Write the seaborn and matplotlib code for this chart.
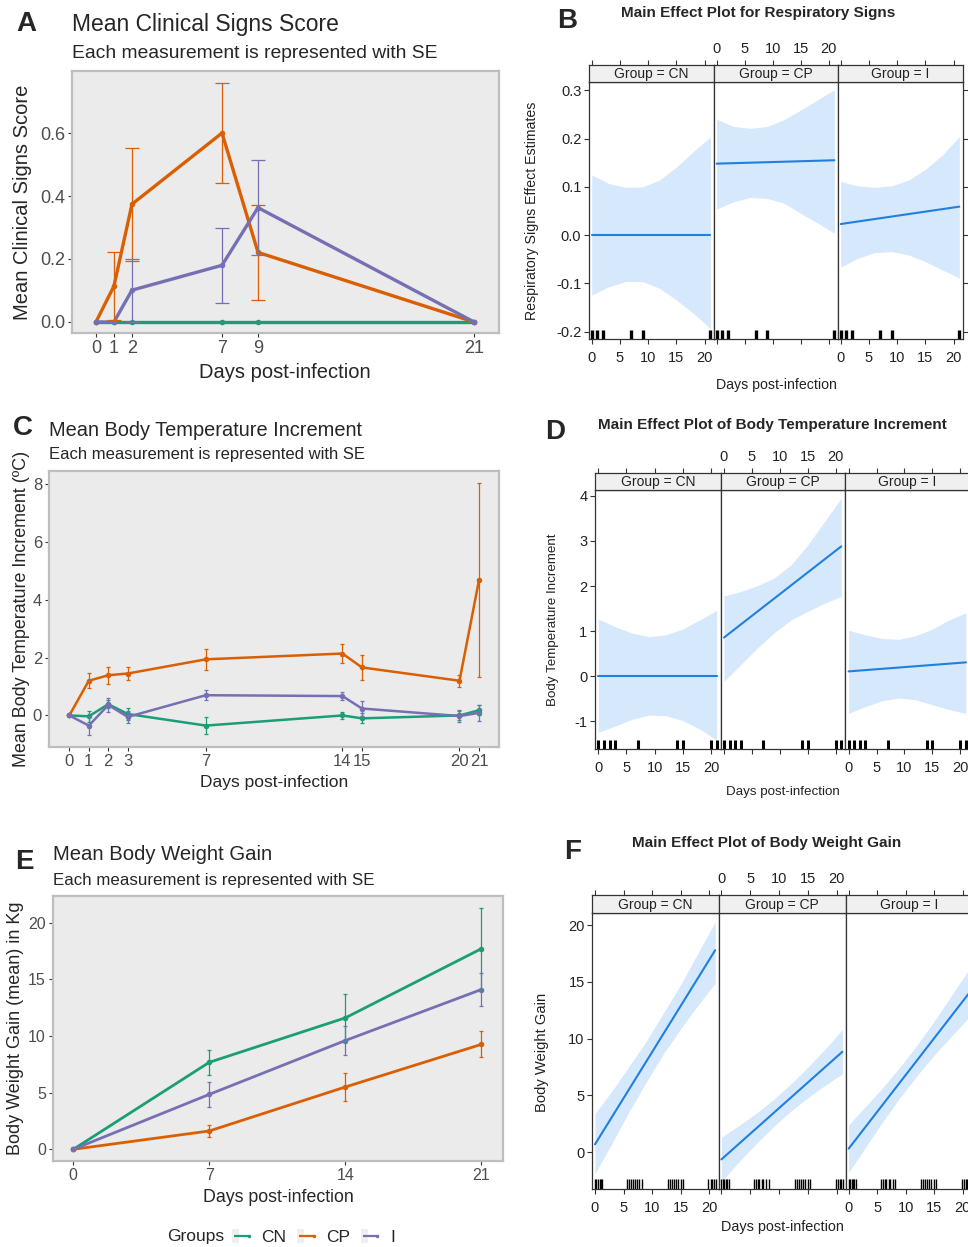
import numpy as np
import pandas as pd
import matplotlib
matplotlib.use("Agg")
import matplotlib.pyplot as plt
import seaborn as sns
from matplotlib.patches import Patch
from matplotlib.lines import Line2D
from matplotlib.legend_handler import HandlerTuple

sns.set_theme(style="white")
plt.rcParams['font.family'] = ['Liberation Sans', 'DejaVu Sans']
plt.rcParams['axes.unicode_minus'] = False

W, H = 968, 1247
groups = ["CN", "CP", "I"]
pal = {"CN": "#1B9E77", "CP": "#D95F02", "I": "#7570B3"}

# A - clinical signs
days_a = [0, 1, 2, 7, 9, 21]
score = {"CN": [0, 0, 0, 0, 0, 0],
         "CP": [0, 0.114, 0.374, 0.60, 0.221, 0],
         "I": [0, 0, 0.101, 0.18, 0.363, 0]}
score_se = {"CN": [0, 0, 0, 0, 0, 0],
            "CP": [0, 0.108, 0.18, 0.16, 0.15, 0],
            "I": [0, 0, 0.10, 0.12, 0.15, 0]}

# C - body temperature increment
days_c = [0, 1, 2, 3, 7, 14, 15, 20, 21]
temp = {"CN": [0, -0.03, 0.39, 0.05, -0.35, 0.0, -0.1, 0.0, 0.18],
        "CP": [0, 1.2, 1.39, 1.45, 1.94, 2.14, 1.66, 1.2, 4.68],
        "I": [0, -0.35, 0.36, -0.05, 0.70, 0.67, 0.24, -0.02, 0.09]}
temp_se = {"CN": [0, 0.18, 0.14, 0.2, 0.29, 0.13, 0.17, 0.17, 0.17],
           "CP": [0, 0.26, 0.29, 0.24, 0.37, 0.33, 0.43, 0.21, 3.34],
           "I": [0, 0.34, 0.23, 0.2, 0.18, 0.15, 0.25, 0.2, 0.27]}

# E - body weight gain
days_e = [0, 7, 14, 21]
gain = {"CN": [0, 7.68, 11.6, 17.7],
        "CP": [0, 1.62, 5.5, 9.26],
        "I": [0, 4.85, 9.6, 14.1]}
gain_se = {"CN": [0, 1.1, 2.15, 3.6],
           "CP": [0, 0.55, 1.25, 1.15],
           "I": [0, 1.1, 1.3, 1.45]}

# effect plots (B, D, F): fitted line ends and band edges read at band_x
band_x = [0, 3, 6, 9, 12, 15, 18, 21]
line_x = [0, 21]

resp_line = {"CN": [0.0, 0.0], "CP": [0.148, 0.155], "I": [0.023, 0.059]}
resp_hi = {"CN": [0.125, 0.107, 0.099, 0.100, 0.114, 0.141, 0.173, 0.203],
           "CP": [0.240, 0.225, 0.221, 0.225, 0.239, 0.259, 0.280, 0.301],
           "I": [0.111, 0.102, 0.099, 0.102, 0.114, 0.136, 0.166, 0.204]}
resp_lo = {"CN": [-0.124, -0.107, -0.096, -0.096, -0.110, -0.134, -0.162, -0.193],
           "CP": [0.054, 0.069, 0.078, 0.076, 0.066, 0.045, 0.025, 0.004],
           "I": [-0.066, -0.048, -0.036, -0.034, -0.041, -0.055, -0.072, -0.089]}
resp_rug = [0, 1, 2, 7, 9, 21]

tinc_line = {"CN": [0.0, 0.0], "CP": [0.86, 2.88], "I": [0.11, 0.31]}
tinc_hi = {"CN": [1.27, 1.10, 0.96, 0.88, 0.92, 1.05, 1.25, 1.46],
           "CP": [1.78, 1.88, 2.01, 2.18, 2.47, 2.91, 3.43, 3.95],
           "I": [1.02, 0.92, 0.84, 0.82, 0.90, 1.05, 1.25, 1.41]}
tinc_lo = {"CN": [-1.24, -1.10, -0.95, -0.86, -0.87, -0.98, -1.17, -1.41],
           "CP": [-0.11, 0.26, 0.63, 0.97, 1.25, 1.44, 1.62, 1.77],
           "I": [-0.82, -0.67, -0.54, -0.48, -0.52, -0.63, -0.74, -0.82]}
tinc_rug = [0, 1, 2, 3, 7, 14, 15, 20, 21]

bwg_line = {"CN": [0.68, 17.8], "CP": [-0.65, 8.85], "I": [0.3, 13.95]}
bwg_hi = {"CN": [3.4, 5.4, 7.6, 9.8, 12.3, 14.8, 17.55, 20.3],
          "CP": [1.3, 2.31, 3.41, 4.62, 5.98, 7.49, 9.09, 10.8],
          "I": [2.4, 4.05, 5.7, 7.5, 9.45, 11.55, 13.8, 16.05]}
bwg_lo = {"CN": [-1.9, 0.8, 3.6, 6.2, 8.7, 10.9, 12.95, 14.9],
          "CP": [-2.6, -0.89, 0.71, 2.22, 3.58, 4.79, 5.89, 6.9],
          "I": [-1.8, 0.45, 2.7, 4.8, 6.75, 8.55, 10.2, 11.85]}
bwg_rug = [0.0, 0.2, 0.5, 0.8, 1.0, 1.3, 5.6, 6.0, 6.3, 6.6, 7.0, 7.3, 7.7, 8.2,
           12.7, 13.1, 13.4, 13.8, 14.1, 14.5, 15.0, 15.3, 19.8, 20.2, 20.5, 20.8, 21.1]

fig = plt.figure(figsize=(W / 100, H / 100), dpi=100)


def pos(x0, y0, x1, y1):
    return [x0 / W, 1 - y1 / H, (x1 - x0) / W, (y1 - y0) / H]


def ftext(x, y, s, **kw):
    fig.text(x / W, 1 - y / H, s, **kw)


def gg_panel(box, days, vals, ses, xlim, ylim, yticks, ylabs, lw, cap, fs):
    ax = fig.add_axes(pos(*box))
    rows = []
    for g in groups:
        for d, v, s in zip(days, vals[g], ses[g]):
            rows.append({"day": d, "value": v, "se": s, "group": g})
    df = pd.DataFrame(rows)
    sns.lineplot(data=df, x="day", y="value", hue="group", hue_order=groups,
                 palette=pal, marker="o", markersize=4, markeredgewidth=0,
                 linewidth=lw, legend=False, errorbar=None, ax=ax)
    for g in groups:
        sub = df[(df.group == g) & (df.se > 0)]
        ax.errorbar(sub.day, sub.value, yerr=sub.se, fmt="none", ecolor=pal[g],
                    elinewidth=0.9, capsize=cap, capthick=0.9)
    ax.set_facecolor("#EBEBEB")
    ax.set_xlim(xlim)
    ax.set_ylim(ylim)
    ax.set_xticks(days)
    ax.set_yticks(yticks)
    ax.set_yticklabels(ylabs)
    ax.set_xlabel("")
    ax.set_ylabel("")
    for s in ax.spines.values():
        s.set_color("#BEBEBE")
        s.set_linewidth(1.6)
    ax.tick_params(bottom=True, left=True, direction="out", length=3, width=0.8,
                   color="#333333", labelcolor="#4D4D4D", labelsize=fs, pad=2)
    return ax


# ---- A
gg_panel((72, 71, 499.3, 333), days_a, score, score_se, (-1.33, 22.4), (-0.035, 0.797),
         [0, 0.2, 0.4, 0.6], ["0.0", "0.2", "0.4", "0.6"], 2.4, 5, 13)
ftext(72, 25, "Mean Clinical Signs Score", fontsize=16.5, va="center")
ftext(72, 53, "Each measurement is represented with SE", fontsize=13.9, va="center")
ftext(23, 202, "Mean Clinical Signs Score", fontsize=14.5, rotation=90, ha="center", va="center")
ftext(285, 373, "Days post-infection", fontsize=14.5, ha="center", va="center")

# ---- C
gg_panel((49, 471, 499.3, 746.7), days_c, temp, temp_se, (-1.04, 22.04), (-1.08, 8.45),
         [0, 2, 4, 6, 8], ["0", "2", "4", "6", "8"], 1.8, 1.5, 12)
ftext(49, 430, "Mean Body Temperature Increment", fontsize=14.4, va="center")
ftext(49, 455, "Each measurement is represented with SE", fontsize=12, va="center")
ftext(22, 609, "Mean Body Temperature Increment (ºC)", fontsize=12.9, rotation=90,
      ha="center", va="center")
ftext(274, 782, "Days post-infection", fontsize=12.5, ha="center", va="center")

# ---- E
gg_panel((52.7, 895.7, 503.3, 1161), days_e, gain, gain_se, (-1.06, 22.13), (-1.03, 22.38),
         [0, 5, 10, 15, 20], ["0", "5", "10", "15", "20"], 2.0, 1.2, 11.5)
ftext(52.7, 855, "Mean Body Weight Gain", fontsize=14.6, va="center")
ftext(52.7, 880, "Each measurement is represented with SE", fontsize=12.2, va="center")
ftext(16, 1028, "Body Weight Gain (mean) in Kg", fontsize=13, rotation=90,
      ha="center", va="center")
ftext(278, 1197, "Days post-infection", fontsize=12.8, ha="center", va="center")

# legend: light grey key box, short coloured line with a small point
handles = [(Patch(facecolor="#EFEFEF", edgecolor="none"),
            Line2D([], [], color=pal[g], ls="none", marker="_", ms=11, mew=1.6),
            Line2D([], [], color=pal[g], ls="none", marker="o", ms=2.5, mew=0))
           for g in groups]
fig.legend(handles, groups, handler_map={tuple: HandlerTuple(ndivide=None, pad=0)},
           loc="center left", bbox_to_anchor=(232 / W, 1 - 1237 / H), ncol=3,
           frameon=False, fontsize=12.5, handlelength=1.15, handleheight=0.9,
           handletextpad=0.55, columnspacing=0.6, borderpad=0, borderaxespad=0)
ftext(167, 1237, "Groups", fontsize=12.5, va="center")

# ---- effect plots
blue = "#1f80e0"
band = "#d6e8fb"


def lattice(edges, ys, yd, yb, xlim, ylim, yticks, ylabs, lines, hi, lo, rug, rug_lw):
    for k, g in enumerate(groups):
        ax = fig.add_axes(pos(edges[k], yd, edges[k + 1], yb))
        st = fig.add_axes(pos(edges[k], ys, edges[k + 1], yd))
        ax.fill_between(band_x, lo[g], hi[g], color=band, lw=0)
        sns.lineplot(x=line_x, y=lines[g], color=blue, linewidth=1.5, ax=ax)
        sns.rugplot(x=rug, ax=ax, height=0.035, color="black", linewidth=rug_lw,
                    expand_margins=False)
        ax.set_facecolor("white")
        ax.set_xlim(xlim)
        ax.set_ylim(ylim)
        ax.set_xticks([0, 5, 10, 15, 20])
        ax.set_yticks(yticks)
        ax.set_yticklabels(ylabs)
        ax.tick_params(axis="x", bottom=True, top=False, labelbottom=(k != 1),
                       direction="out", length=3.5, width=0.8, color="#333333",
                       labelsize=10.5, labelcolor="#222222", pad=5.5)
        ax.tick_params(axis="y", left=(k == 0), right=(k == 2), labelleft=(k == 0),
                       labelright=False, direction="out", length=3.5, width=0.8,
                       color="#333333", labelsize=10.5, labelcolor="#222222", pad=2)
        for s in ax.spines.values():
            s.set_color("#333333")
            s.set_linewidth(0.9)
        st.set_facecolor("#F0F0F0")
        st.set_xlim(xlim)
        st.set_ylim(0, 1)
        st.set_yticks([])
        st.set_xticks([0, 5, 10, 15, 20])
        st.tick_params(axis="x", top=True, bottom=False, labeltop=(k == 1),
                       labelbottom=False, direction="out", length=3.5, width=0.8,
                       color="#333333", labelsize=10.5, labelcolor="#222222", pad=3)
        for s in st.spines.values():
            s.set_color("#333333")
            s.set_linewidth(0.9)
        st.text(0.5, 0.45, f"Group = {g}", transform=st.transAxes, ha="center",
                va="center", fontsize=10, color="#222222")


# B
lattice([589, 714, 838, 963], 65, 82, 339, (-0.48, 21.65), (-0.215, 0.317),
        [-0.2, -0.1, 0.0, 0.1, 0.2, 0.3], ["-0.2", "-0.1", "0.0", "0.1", "0.2", "0.3"],
        resp_line, resp_hi, resp_lo, resp_rug, 2.4)
ftext(758, 13, "Main Effect Plot for Respiratory Signs", fontsize=11, fontweight="bold",
      ha="center", va="center")
ftext(532, 211, "Respiratory Signs Effect Estimates", fontsize=10.2, rotation=90,
      ha="center", va="center", color="#222222")
ftext(776, 385, "Days post-infection", fontsize=10.2, ha="center", va="center", color="#222222")

# D
lattice([595, 720.7, 845.3, 970], 473, 490, 749, (-0.59, 21.73), (-1.61, 4.13),
        [-1, 0, 1, 2, 3, 4], ["-1", "0", "1", "2", "3", "4"],
        tinc_line, tinc_hi, tinc_lo, tinc_rug, 2.2)
ftext(772, 425, "Main Effect Plot of Body Temperature Increment", fontsize=11,
      fontweight="bold", ha="center", va="center")
ftext(553, 620, "Body Temperature Increment", fontsize=9.6, rotation=90,
      ha="center", va="center", color="#222222")
ftext(783, 792, "Days post-infection", fontsize=9.6, ha="center", va="center", color="#222222")

# F
lattice([592.3, 718.7, 846, 972], 895.3, 913.3, 1189, (-0.47, 21.62), (-3.26, 21.06),
        [0, 5, 10, 15, 20], ["0", "5", "10", "15", "20"],
        bwg_line, bwg_hi, bwg_lo, bwg_rug, 1.0)
ftext(767, 843, "Main Effect Plot of Body Weight Gain", fontsize=11, fontweight="bold",
      ha="center", va="center")
ftext(542, 1052, "Body Weight Gain", fontsize=10.6, rotation=90,
      ha="center", va="center", color="#222222")
ftext(782, 1227, "Days post-infection", fontsize=10.4, ha="center", va="center", color="#222222")

# panel letters
for letter, x, y in [("A", 26, 24), ("B", 567, 21), ("C", 23, 428),
                     ("D", 555, 432), ("E", 24, 862), ("F", 573, 852)]:
    ftext(x, y, letter, fontsize=20, fontweight="bold", ha="center", va="center")

fig.savefig("out.png", dpi=100)
